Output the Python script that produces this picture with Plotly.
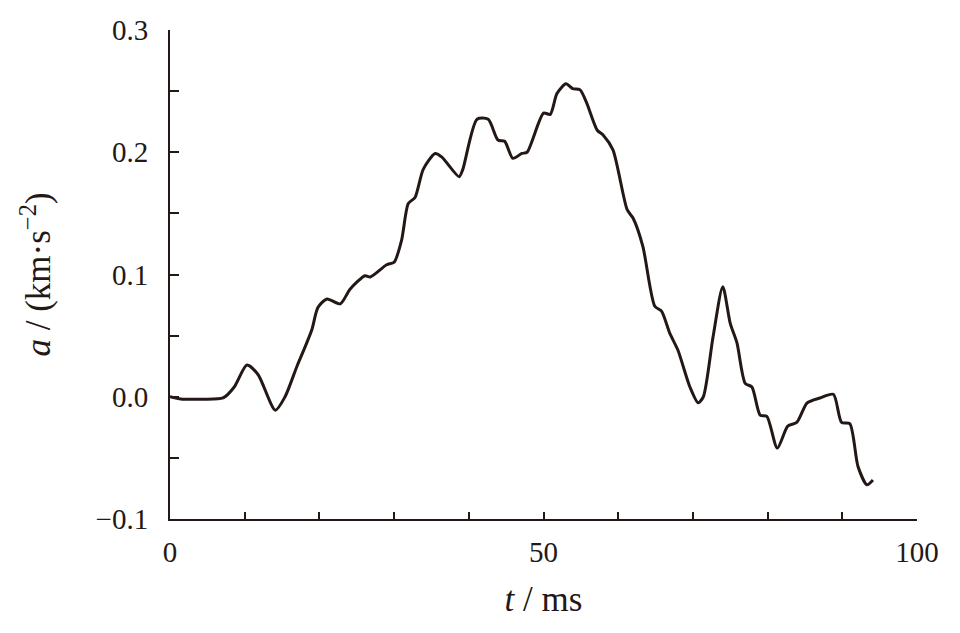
import plotly.graph_objects as go

# ── Datos (t en ms, a en km·s^-2) ────────────────────────────────────────────
t_ms = [0.0, 1.7, 4.0, 7.1, 8.6, 10.3, 11.8, 14.1, 15.4, 17.0, 18.1, 19.0,
        19.8, 21.0, 22.8, 24.1, 26.1, 26.8, 29.0, 30.0, 31.0, 31.9, 32.8,
        33.9, 35.5, 36.4, 38.7, 39.2, 41.1, 42.6, 43.9, 44.8, 45.9, 47.1,
        47.8, 50.0, 50.9, 51.8, 53.0, 53.9, 54.9, 55.8, 57.2, 58.0, 59.3,
        61.2, 62.0, 63.3, 64.9, 65.8, 66.9, 68.0, 69.6, 70.7, 71.4, 72.7,
        74.0, 75.0, 75.9, 77.0, 77.9, 79.0, 79.9, 81.3, 82.7, 83.9, 85.3,
        87.0, 88.8, 89.9, 91.0, 92.1, 93.3, 94.1]
accel = [0.000, -0.002, -0.002, -0.001, 0.008, 0.026, 0.018, -0.011, 0.000,
         0.025, 0.041, 0.055, 0.073, 0.080, 0.076, 0.088, 0.099, 0.098,
         0.108, 0.110, 0.128, 0.158, 0.163, 0.186, 0.199, 0.196, 0.180,
         0.186, 0.227, 0.227, 0.210, 0.209, 0.195, 0.199, 0.200, 0.232,
         0.231, 0.248, 0.256, 0.252, 0.251, 0.240, 0.218, 0.214, 0.202,
         0.153, 0.146, 0.123, 0.074, 0.070, 0.052, 0.038, 0.008, -0.005,
         0.000, 0.049, 0.090, 0.060, 0.044, 0.011, 0.008, -0.015, -0.016,
         -0.042, -0.024, -0.021, -0.005, -0.001, 0.002, -0.021, -0.022,
         -0.057, -0.072, -0.068]

# ticks (mayores con etiqueta, menores sin texto)
x_ticks = [0, 10, 20, 30, 40, 50, 60, 70, 80, 90, 100]
x_labels = ['0', '', '', '', '', '50', '', '', '', '', '100']
y_ticks = [-0.1, -0.05, 0.0, 0.05, 0.1, 0.15, 0.2, 0.25, 0.3]
y_labels = ['−0.1', '', '0.0', '', '0.1', '', '0.2', '', '0.3']

INK = '#231815'
FONT = dict(family="Liberation Serif", size=29, color=INK)

fig = go.Figure()
fig.add_trace(go.Scatter(
    x=t_ms, y=accel, mode='lines',
    line=dict(color=INK, width=3, shape='spline', smoothing=0.7),
    showlegend=False,
))

# la página añade 8 px de margen al body → figura de 952x625
fig.update_layout(
    width=952, height=625,
    paper_bgcolor='white', plot_bgcolor='white',
    font=FONT,
    margin=dict(l=162, r=43, t=22, b=114, autoexpand=False),
    xaxis=dict(
        range=[0, 100], tickmode='array', tickvals=x_ticks, ticktext=x_labels,
        showgrid=False, zeroline=False, automargin=False,
        showline=True, linecolor=INK, linewidth=2,
        ticks='inside', ticklen=7, tickwidth=2, tickcolor=INK,
        title=dict(text='<i>t</i> / ms', standoff=20),
        ticklabelstandoff=6,
    ),
    yaxis=dict(
        range=[-0.1, 0.3], tickmode='array', tickvals=y_ticks, ticktext=y_labels,
        showgrid=False, zeroline=False, automargin=False,
        showline=True, linecolor=INK, linewidth=2,
        ticks='inside', ticklen=9, tickwidth=2, tickcolor=INK,
        title=dict(text='<i>a</i> / (km·s<sup>−2</sup>)', standoff=34),
        ticklabelstandoff=14,
    ),
)

fig.write_html("out.html")
